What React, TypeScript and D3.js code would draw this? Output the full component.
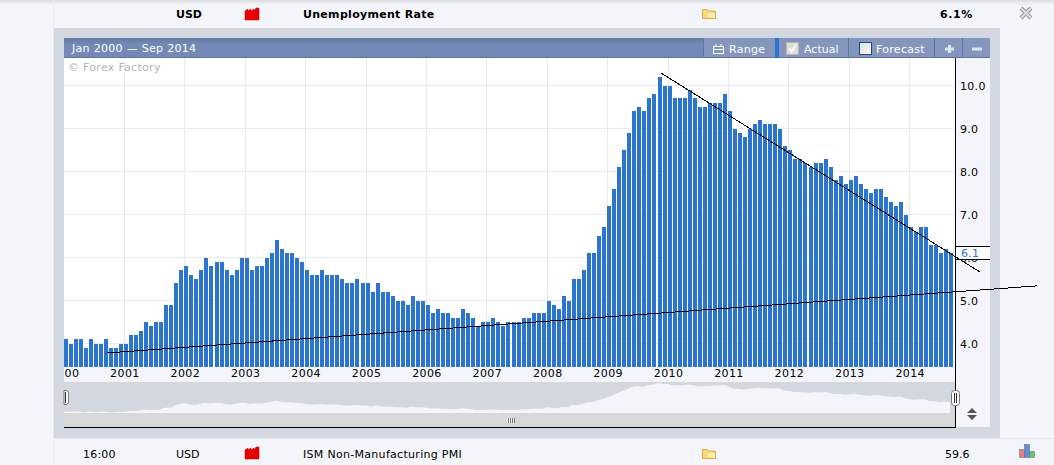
import React, { useEffect, useRef } from 'react';
import * as d3 from 'd3';

// monthly unemployment rate (one row per 12 bars)
const rateValues: number[] = [
    4.1, 4.0, 4.1, 4.1, 3.9, 4.1, 4.0, 4.0, 4.1, 3.9, 3.9, 4.0,
    4.0, 4.2, 4.2, 4.3, 4.5, 4.4, 4.5, 4.5, 4.9, 4.9, 5.4, 5.7,
    5.8, 5.6, 5.5, 5.7, 6.0, 5.8, 5.9, 5.9, 5.7, 5.6, 5.7, 6.0,
    6.0, 5.7, 5.8, 5.8, 6.0, 6.1, 6.4, 6.2, 6.1, 6.1, 6.0, 5.9,
    5.7, 5.6, 5.6, 5.7, 5.6, 5.6, 5.6, 5.5, 5.4, 5.4, 5.5, 5.4,
    5.4, 5.2, 5.4, 5.2, 5.2, 5.1, 5.0, 5.0, 4.9, 5.1, 5.0, 5.0,
    4.9, 4.7, 4.8, 4.7, 4.7, 4.6, 4.6, 4.8, 4.7, 4.6, 4.4, 4.5,
    4.5, 4.6, 4.5, 4.4, 4.5, 4.5, 4.5, 4.6, 4.6, 4.7, 4.7, 4.7,
    5.0, 4.9, 4.8, 5.1, 5.0, 5.5, 5.5, 5.7, 6.1, 6.1, 6.5, 6.7,
    7.2, 7.6, 8.1, 8.5, 8.9, 9.4, 9.5, 9.4, 9.7, 9.8, 10.2, 10.0,
    10.0, 9.7, 9.7, 9.7, 9.9, 9.7, 9.5, 9.5, 9.6, 9.6, 9.6, 9.8,
    9.4, 9.0, 8.9, 8.8, 9.0, 9.1, 9.2, 9.1, 9.1, 9.1, 9.0, 8.6,
    8.5, 8.3, 8.3, 8.2, 8.1, 8.2, 8.2, 8.3, 8.1, 7.8, 7.9, 7.7,
    7.8, 7.9, 7.7, 7.6, 7.5, 7.6, 7.6, 7.4, 7.3, 7.2, 7.3, 7.0,
    6.7, 6.6, 6.7, 6.7, 6.3, 6.3, 6.1, 6.2, 6.1,
];

const yearLabels = ['2000', '2001', '2002', '2003', '2004', '2005', '2006', '2007', '2008', '2009', '2010', '2011', '2012', '2013', '2014'];
const rateTicks = [4, 5, 6, 7, 8, 9, 10];

// hand-drawn trend lines as [month index, rate]
const risingTrend: [number, number][] = [[8.5, 3.78], [193.3, 5.34]];
const fallingTrend: [number, number][] = [[118.6, 10.29], [182, 5.66]];

const latestLabel = '6.1';

const FONT = '"DejaVu Sans", Verdana, sans-serif';
const PAGE_BG = '#f4f5fa';
const PANEL_BG = '#d3d7e0';
const GRID = '#e9e9f2';
const BAR = '#2b74d0';

const Factory: React.FC<{ x: number; y: number }> = ({ x, y }) => (
    <path
        transform={`translate(${x},${y})`}
        d="M0,3 L3,1 L3,3 L6,1 L6,3 L9,1 L9,3 L11,0 L14,0 L14,12 L0,12 Z"
        fill="#e80000"
        stroke="#b80000"
        strokeWidth={0.5}
    />
);

const Folder: React.FC<{ x: number; y: number }> = ({ x, y }) => (
    <g transform={`translate(${x},${y})`}>
        <path d="M0.5,1.5 L5,1.5 L6,3 L13.5,3 L13.5,10.5 L0.5,10.5 Z" fill="#f8d878" stroke="#e0a848" />
        <rect x={6} y={5} width={7} height={4.5} fill="#fff0b0" />
    </g>
);

const ToolbarDivider: React.FC<{ x: number }> = ({ x }) => (
    <rect x={x} y={38} width={1} height={20} fill="#5f74a0" />
);

export default function App() {
    const svgRef = useRef<SVGSVGElement>(null);

    useEffect(() => {
        if (!svgRef.current) return;

        const svg = d3.select(svgRef.current);
        svg.selectAll('.chart').remove();

        const plot = { left: 64, right: 955, top: 58, bottom: 367 };
        const root = svg.insert('g', '.overlay').attr('class', 'chart');

        const x = d3.scaleLinear().domain([0, rateValues.length]).range([plot.left, plot.right]);
        const y = d3.scaleLinear().domain([4, 10]).range([343.5, 85.5]);

        // grid sits behind the bars
        root.append('g')
            .selectAll('line')
            .data(rateTicks)
            .join('line')
            .attr('x1', plot.left)
            .attr('x2', plot.right)
            .attr('y1', d => Math.floor(y(d)))
            .attr('y2', d => Math.floor(y(d)))
            .attr('stroke', GRID)
            .attr('shape-rendering', 'crispEdges');

        root.append('g')
            .selectAll('line')
            .data(yearLabels.slice(1))
            .join('line')
            .attr('x1', (_, i) => Math.floor(x((i + 1) * 12)))
            .attr('x2', (_, i) => Math.floor(x((i + 1) * 12)))
            .attr('y1', plot.top)
            .attr('y2', plot.bottom)
            .attr('stroke', GRID)
            .attr('shape-rendering', 'crispEdges');

        root.append('text')
            .attr('x', 68)
            .attr('y', 71)
            .attr('fill', '#b4b4b4')
            .style('font', `11px ${FONT}`)
            .style('letter-spacing', '0.3px')
            .text('\u00a9 Forex Factory');

        root.append('g')
            .selectAll('rect')
            .data(rateValues)
            .join('rect')
            .attr('x', (_, i) => Math.floor(x(i)))
            .attr('y', d => Math.round(y(d)))
            .attr('width', 4)
            .attr('height', d => plot.bottom - Math.round(y(d)))
            .attr('fill', BAR)
            .attr('shape-rendering', 'crispEdges');

        // x axis labels, clipped so 2000 shows as "00" like the original
        const clip = root.append('clipPath').attr('id', 'xlabels');
        clip.append('rect').attr('x', plot.left).attr('y', plot.bottom).attr('width', plot.right - plot.left).attr('height', 16);

        const xAxis = d3.axisBottom(x)
            .tickValues(yearLabels.map((_, i) => i * 12))
            .tickSize(0)
            .tickPadding(0)
            .tickFormat((_, i) => yearLabels[i]);

        root.append('g')
            .attr('clip-path', 'url(#xlabels)')
            .append('g')
            .attr('transform', `translate(0,${plot.bottom + 2})`)
            .call(xAxis)
            .call(g => g.select('.domain').remove())
            .selectAll('text')
            .attr('fill', '#000')
            .style('font', `11px ${FONT}`)
            .style('letter-spacing', '0.4px');

        // y axis
        const yAxis = d3.axisRight(y)
            .tickValues(rateTicks)
            .tickSize(0)
            .tickPadding(5)
            .tickFormat(d3.format('.1f') as any);

        root.append('g')
            .attr('transform', `translate(${plot.right},0)`)
            .call(yAxis)
            .call(g => g.select('.domain').remove())
            .selectAll('text')
            .attr('fill', '#000')
            .style('font', `11px ${FONT}`)
            .style('letter-spacing', '0.3px');

        // latest value box
        root.append('rect').attr('x', 956).attr('y', 247).attr('width', 34).attr('height', 12).attr('fill', '#fff').attr('shape-rendering', 'crispEdges');
        root.append('line').attr('x1', 955).attr('x2', 990).attr('y1', 246.5).attr('y2', 246.5).attr('stroke', '#000').attr('shape-rendering', 'crispEdges');
        root.append('line').attr('x1', 955).attr('x2', 990).attr('y1', 259.5).attr('y2', 259.5).attr('stroke', '#000').attr('shape-rendering', 'crispEdges');
        root.append('text')
            .attr('x', 961)
            .attr('y', 257)
            .attr('fill', BAR)
            .style('font', `11px ${FONT}`)
            .style('letter-spacing', '0.3px')
            .text(latestLabel);

        // overview strip under the chart
        const navY = d3.scaleLinear().domain([4, 10.2]).range([412, 383]);
        const navArea = d3.area<number>()
            .x((_, i) => x(i))
            .y0(413)
            .y1(d => navY(d))
            .curve(d3.curveMonotoneX);

        root.append('path').datum(rateValues).attr('d', navArea).attr('fill', PAGE_BG);

        // axis frame
        root.append('line').attr('x1', 955.5).attr('x2', 955.5).attr('y1', plot.top).attr('y2', 427).attr('stroke', '#000').attr('shape-rendering', 'crispEdges');
        root.append('line').attr('x1', 64).attr('x2', 956).attr('y1', 427.5).attr('y2', 427.5).attr('stroke', '#000').attr('shape-rendering', 'crispEdges');

        // trend lines
        const trend = d3.line<[number, number]>().x(d => x(d[0])).y(d => y(d[1]));
        [risingTrend, fallingTrend].forEach(t => {
            root.append('path')
                .attr('d', trend(t))
                .attr('fill', 'none')
                .attr('stroke', '#000')
                .attr('stroke-width', 1)
                .attr('shape-rendering', 'crispEdges');
        });
    }, []);

    const text = { fontFamily: FONT, fontSize: 11 };

    return (
        <div style={{ position: 'absolute', left: 0, top: 0, width: 1054, height: 465, overflow: 'hidden' }}>
            <svg ref={svgRef} width={1054} height={465} viewBox="0 0 1054 465" style={{ display: 'block' }}>
                <defs>
                    <linearGradient id="rowTop" x1="0" y1="0" x2="0" y2="1">
                        <stop offset="0" stopColor="#dcdde0" />
                        <stop offset="1" stopColor={PAGE_BG} />
                    </linearGradient>
                    <linearGradient id="barLeft" x1="0" y1="0" x2="0" y2="1">
                        <stop offset="0" stopColor="#6579a2" />
                        <stop offset="0.3" stopColor="#7389b4" />
                        <stop offset="1" stopColor="#7489b5" />
                    </linearGradient>
                    <linearGradient id="boxFill" x1="0" y1="0" x2="1" y2="1">
                        <stop offset="0" stopColor="#d8dce4" />
                        <stop offset="1" stopColor="#ffffff" />
                    </linearGradient>
                </defs>

                <rect width={1054} height={465} fill={PAGE_BG} />
                <rect width={1054} height={5} fill="url(#rowTop)" />
                <rect x={53} y={0} width={1} height={465} fill="#e8eaf0" />

                {/* top calendar row */}
                <text x={176} y={18} {...text} fontWeight="bold">USD</text>
                <Factory x={245} y={8} />
                <text x={303} y={18} {...text} fontWeight="bold" letterSpacing={0.3}>Unemployment Rate</text>
                <Folder x={702} y={8} />
                <text x={940} y={18} {...text} fontWeight="bold" letterSpacing={0.6}>6.1%</text>
                <path d="M1021,8 L1031,18 M1031,8 L1021,18" stroke="#8f8f8f" strokeWidth={4} fill="none" />
                <path d="M1021,8 L1031,18 M1031,8 L1021,18" stroke="#dcdcdc" strokeWidth={2.4} fill="none" />

                {/* panel */}
                <rect x={54} y={28} width={946} height={410} fill={PANEL_BG} />
                <rect x={64} y={58} width={891} height={309} fill="#ffffff" />
                <rect x={956} y={58} width={34} height={369} fill={PAGE_BG} />
                <rect x={64} y={367} width={891} height={15} fill={PAGE_BG} />
                <rect x={64} y={382} width={891} height={31} fill={PANEL_BG} />
                <rect x={64} y={413} width={891} height={14} fill="#d8d8d8" />

                {/* toolbar */}
                <rect x={64} y={38} width={926} height={20} fill="url(#barLeft)" />
                <rect x={703} y={38} width={287} height={20} fill="#8496bd" />
                <rect x={64} y={57} width={926} height={1} fill="#5f74a0" />
                <ToolbarDivider x={703} />
                <ToolbarDivider x={848} />
                <ToolbarDivider x={934} />
                <ToolbarDivider x={962} />
                <rect x={775} y={38} width={4} height={20} fill={BAR} />
                <text x={72} y={52} {...text} fill="#ffffff" letterSpacing={0.3}>Jan 2000 — Sep 2014</text>
                <g fill="none" stroke="#ffffff">
                    <rect x={713.5} y={46.5} width={10} height={7} />
                    <path d="M713.5,49.5 H723.5 M716,44 V46 M721,44 V46" />
                </g>
                <text x={729} y={53} {...text} fill="#ffffff" letterSpacing={0.3}>Range</text>
                <rect x={786.5} y={42.5} width={12} height={12} fill="#dcdcd8" stroke="#b8b8b0" />
                <path d="M789,48 L791.5,51.5 L796,45" fill="none" stroke="#ffffff" strokeWidth={2} />
                <text x={804} y={53} {...text} fill="#ffffff">Actual</text>
                <rect x={859.5} y={42.5} width={12} height={12} fill="url(#boxFill)" stroke="#1f4a80" />
                <text x={876} y={53} {...text} fill="#ffffff" letterSpacing={0.3}>Forecast</text>
                <path d="M945,49 H954 M949.5,45 V53" stroke="#dfe4ee" strokeWidth={3} />
                <path d="M972,49 H982" stroke="#dfe4ee" strokeWidth={3} />

                {/* bottom calendar row */}
                <rect x={54} y={438} width={1000} height={1} fill="#e6e8ee" />
                <text x={83} y={458} {...text} letterSpacing={0.2}>16:00</text>
                <text x={176} y={458} {...text}>USD</text>
                <Factory x={245} y={447} />
                <text x={303} y={458} {...text} letterSpacing={0.3}>ISM Non-Manufacturing PMI</text>
                <Folder x={702} y={448} />
                <text x={945} y={458} {...text}>59.6</text>
                <g stroke="#666" strokeWidth={0.5}>
                    <rect x={1019.5} y={449.5} width={5} height={8} fill="#e88080" />
                    <rect x={1024.5} y={444.5} width={5} height={13} fill="#5a90e0" />
                    <rect x={1029.5} y={451.5} width={5} height={6} fill="#70c070" />
                </g>

                {/* drawn after the chart group, the d3 group is inserted before this one */}
                <g className="overlay">
                    <rect x={507} y={418} width={8} height={5} fill="#f4f4f4" />
                    <rect x={508} y={418} width={1} height={5} fill="#777" />
                    <rect x={510} y={418} width={1} height={5} fill="#777" />
                    <rect x={512} y={418} width={1} height={5} fill="#777" />
                    <rect x={514} y={418} width={1} height={5} fill="#777" />
                    <path d="M972,408 L977,413 H967 Z M972,420 L977,415 H967 Z" fill="#555555" />
                    {/* left handle is cut off by the plot edge */}
                    <path d="M64,390.5 H66 Q68.5,390.5 68.5,393 V402 Q68.5,404.5 66,404.5 H64 Z" fill="#ffffff" stroke="#777" />
                    <rect x={65} y={392} width={1} height={11} fill="#333" />
                    <rect x={951.5} y={390.5} width={8} height={15} rx={3} fill="#ffffff" stroke="#777" />
                    <rect x={954} y={393} width={1} height={10} fill="#333" />
                    <rect x={956} y={393} width={1} height={10} fill="#333" />
                </g>
            </svg>
        </div>
    );
}
